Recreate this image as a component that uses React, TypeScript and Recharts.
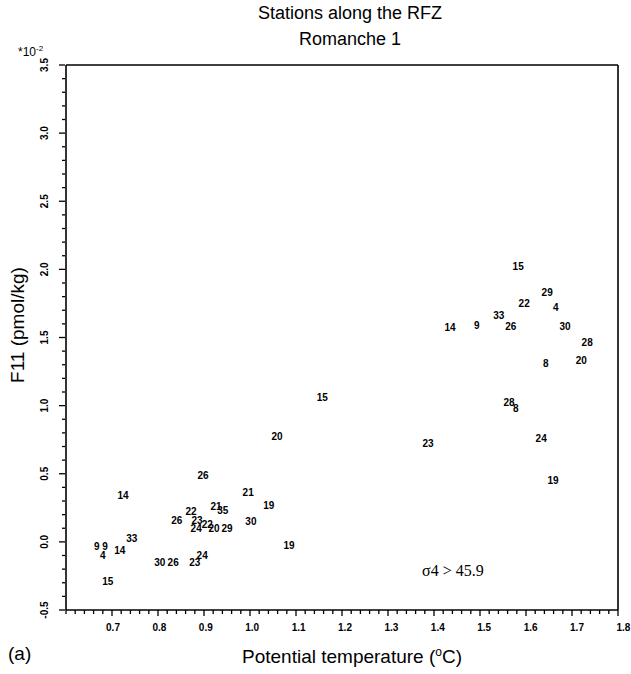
import React from "react";
import { ScatterChart, Scatter, XAxis, YAxis, ReferenceLine } from "recharts";

const stationLabels = ["15","29","22","4","33","14","9","26","30","28","20","8","28","8","24","23","19","15","20","26","21","19","14","22","21","35","26","23","30","24","22","20","29","33","9","9","4","14","19","30","26","23","24","15"];
const potentialTemp = [1.583,1.646,1.596,1.665,1.541,1.435,1.493,1.567,1.685,1.733,1.72,1.643,1.563,1.578,1.633,1.387,1.659,1.157,1.059,0.898,0.996,1.041,0.724,0.872,0.926,0.941,0.841,0.885,1.002,0.883,0.907,0.922,0.95,0.743,0.667,0.685,0.68,0.717,1.085,0.804,0.833,0.88,0.896,0.691];
const f11Values = [2.02,1.83,1.75,1.72,1.66,1.57,1.59,1.58,1.58,1.46,1.33,1.31,1.02,0.98,0.756,0.72,0.45,1.06,0.77,0.49,0.36,0.27,0.34,0.22,0.26,0.23,0.154,0.154,0.147,0.095,0.13,0.095,0.095,0.022,-0.037,-0.037,-0.10,-0.06,-0.03,-0.15,-0.15,-0.15,-0.10,-0.29];

const xMajorTicks = [0.7,0.8,0.9,1.0,1.1,1.2,1.3,1.4,1.5,1.6,1.7,1.8];
const xMajorLabels = ["0.7","0.8","0.9","1.0","1.1","1.2","1.3","1.4","1.5","1.6","1.7","1.8"];
const yMajorTicks = [-0.5,0,0.5,1.0,1.5,2.0,2.5,3.0,3.5];
const yMajorLabels = ["-0.5","0.0","0.5","1.0","1.5","2.0","2.5","3.0","3.5"];

const xTicks: number[] = [];
for (let i = 30; i <= 90; i++) xTicks.push(Math.round(i * 2) / 100);
const yTicks: number[] = [];
for (let i = -5; i <= 35; i++) yTicks.push(i / 10);

const data = stationLabels.map((s, i) => ({ x: potentialTemp[i], y: f11Values[i], label: s }));

const isMajor = (v: number, arr: number[]) => arr.findIndex((m) => Math.abs(m - v) < 1e-6);

const XTick = (props: any) => {
  const { x, y, payload } = props;
  const idx = isMajor(payload.value, xMajorTicks);
  const major = idx >= 0;
  return (
    <g>
      <line x1={x} x2={x} y1={y} y2={y + (major ? 6 : 4)} stroke="#000" strokeWidth={1.3} />
      {major && (
        <text x={x + 1 + idx * 0.4} y={y + 21} textAnchor="middle" fontSize={10} fontWeight="bold" fontFamily="Liberation Sans, Arial, sans-serif" fill="#000">
          {xMajorLabels[idx]}
        </text>
      )}
    </g>
  );
};

const YTick = (props: any) => {
  const { x, y, payload } = props;
  const idx = isMajor(payload.value, yMajorTicks);
  const major = idx >= 0;
  return (
    <g>
      <line x1={x - (major ? 7 : 4)} x2={x - 1} y1={y} y2={y} stroke="#000" strokeWidth={1.3} />
      {major && (
        <text x={x - 18} y={y} transform={`rotate(-90 ${x - 18} ${y})`} textAnchor="middle" fontSize={10} fontWeight="bold" fontFamily="Liberation Sans, Arial, sans-serif" fill="#000">
          {yMajorLabels[idx]}
        </text>
      )}
    </g>
  );
};

const LabelShape = (props: any) => {
  const { cx, cy, payload } = props;
  return (
    <text x={cx} y={cy} textAnchor="middle" dominantBaseline="central" fontSize={10} fontWeight="bold" fontFamily="Liberation Sans, Arial, sans-serif" fill="#000">
      {payload.label}
    </text>
  );
};

const font = "Liberation Sans, Arial, sans-serif";

export default function App() {
  return (
    <div style={{ position: "absolute", left: 0, top: 0, width: 631, height: 674, background: "#fff", fontFamily: font }}>
      <ScatterChart width={631} height={674} margin={{ top: 65, right: 13, bottom: 0, left: 0 }}>
        <XAxis
          type="number"
          dataKey="x"
          domain={[0.6, 1.8]}
          ticks={xTicks}
          interval={0}
          tickSize={0}
          tickMargin={0}
          tick={<XTick />}
          height={64}
          axisLine={{ stroke: "#000", strokeWidth: 1.6 }}
          allowDataOverflow
        />
        <YAxis
          type="number"
          dataKey="y"
          domain={[-0.5, 3.5]}
          ticks={yTicks}
          interval={0}
          tickSize={0}
          tickMargin={0}
          tick={<YTick />}
          width={66}
          axisLine={{ stroke: "#000", strokeWidth: 1.6 }}
          allowDataOverflow
        />
        <ReferenceLine y={3.5} stroke="#000" strokeWidth={1.6} />
        <ReferenceLine x={1.8} stroke="#000" strokeWidth={1.6} />
        <Scatter data={data} shape={<LabelShape />} isAnimationActive={false} />
      </ScatterChart>
      <div style={{ position: "absolute", left: 0, width: 700, top: 2, textAlign: "center", fontSize: 18, lineHeight: "22px", color: "#000" }}>
        Stations along the RFZ
      </div>
      <div style={{ position: "absolute", left: 0, width: 700, top: 28, textAlign: "center", fontSize: 18, lineHeight: "22px", color: "#000" }}>
        Romanche 1
      </div>
      <div style={{ position: "absolute", left: 18, top: 42, fontSize: 12, lineHeight: "14px", color: "#000" }}>
        *10<sup style={{ fontSize: 8 }}>-2</sup>
      </div>
      <div style={{ position: "absolute", left: 18, top: 325, width: 0, height: 0 }}>
        <div style={{ position: "absolute", transform: "translate(-50%, -50%) rotate(-90deg)", whiteSpace: "nowrap", fontSize: 19, color: "#000" }}>
          F11 (pmol/kg)
        </div>
      </div>
      <div style={{ position: "absolute", left: 8, top: 643, fontSize: 19, color: "#000" }}>(a)</div>
      <div style={{ position: "absolute", left: 0, width: 704, top: 645, textAlign: "center", fontSize: 19, color: "#000" }}>
        Potential temperature (<sup style={{ fontSize: 12 }}>o</sup>C)
      </div>
      <div style={{ position: "absolute", left: 422, top: 562, fontSize: 16, fontFamily: "Liberation Serif, Times New Roman, serif", color: "#000" }}>
        σ4 &gt; 45.9
      </div>
    </div>
  );
}
